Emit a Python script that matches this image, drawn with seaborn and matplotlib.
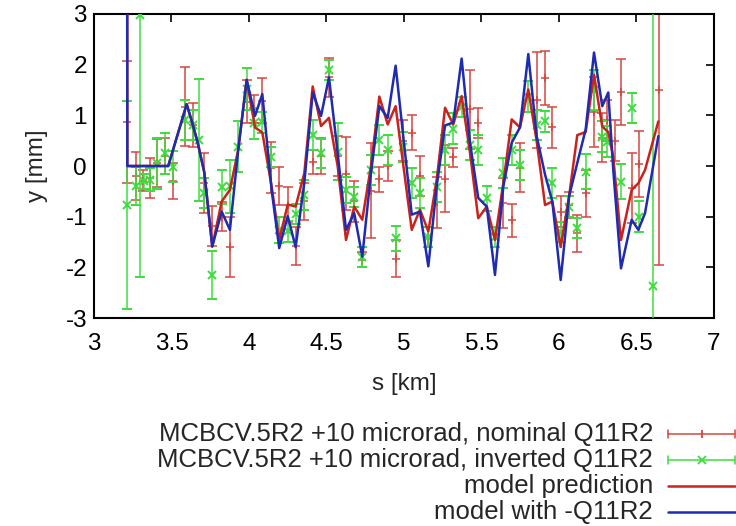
import matplotlib.pyplot as plt
import seaborn as sns
from matplotlib.lines import Line2D

# Model orbit at the BPM positions
s_model = [3.213, 3.215, 3.479, 3.598, 3.637, 3.669, 3.712, 3.763, 3.824, 3.877,
           3.931, 3.985, 4.039, 4.086, 4.146, 4.195, 4.250, 4.301, 4.357, 4.411,
           4.465, 4.516, 4.572, 4.626, 4.679, 4.731, 4.787, 4.841, 4.895, 4.946,
           5.050, 5.103, 5.157, 5.211, 5.265, 5.318, 5.372, 5.426, 5.479, 5.534,
           5.587, 5.641, 5.695, 5.748, 5.802, 5.856, 5.910, 5.957, 6.011, 6.065,
           6.118, 6.172, 6.226, 6.279, 6.318, 6.350, 6.400, 6.469, 6.512, 6.555,
           6.641]
y_model = [10.0, 0.0, 0.0, 1.22, 0.82, 0.46, -0.13, -1.59, -0.70, -0.47,
           0.33, 1.70, 0.76, 0.66, -0.40, -1.46, -0.76, -0.80, -0.14, 1.57,
           0.79, 0.95, 0.00, -1.46, -0.80, -1.06, 0.00, 1.37, 0.82, 1.18,
           -1.26, -0.86, -1.29, -0.27, 1.15, 0.82, 1.38, 0.26, -1.03, -0.80,
           -1.46, -0.33, 0.92, 0.76, 1.51, 0.49, -0.77, -0.70, -1.60, -0.60,
           0.61, 0.67, 1.80, 0.78, 0.67, 0.18, -1.46, -0.47, -0.34, -0.08,
           0.88]
y_model_inv = [10.0, 0.0, 0.0, 1.22, 0.82, 0.46, -0.13, -1.59, -0.90, -1.26,
               0.33, 1.70, 0.99, 1.42, -0.47, -1.62, -0.99, -1.60, -0.33, 1.45,
               0.99, 1.75, 0.26, -1.26, -0.93, -1.79, -0.14, 1.18, 0.95, 1.98,
               -0.96, -0.90, -1.98, -0.40, 0.80, 0.86, 2.12, 0.46, -0.63, -0.80,
               -2.15, -0.40, 0.46, 0.76, 2.21, 0.59, -0.17, -0.70, -2.25, -0.60,
               0.06, 0.72, 2.24, 1.18, 1.45, -0.07, -2.02, -1.06, -1.26, -0.93,
               0.59]

# Measurement, nominal Q11R2
s_nom = [3.215, 3.269, 3.314, 3.361, 3.404, 3.458, 3.512, 3.587, 3.637, 3.712,
         3.763, 3.824, 3.877, 3.985, 4.034, 4.086, 4.142, 4.196, 4.250, 4.301,
         4.357, 4.411, 4.465, 4.516, 4.572, 4.626, 4.679, 4.731, 4.787, 4.841,
         4.895, 4.946, 4.996, 5.050, 5.103, 5.157, 5.211, 5.265, 5.318, 5.426,
         5.479, 5.641, 5.695, 5.748, 5.856, 5.910, 5.957, 6.011, 6.065, 6.118,
         6.172, 6.226, 6.279, 6.308, 6.361, 6.400, 6.469, 6.516, 6.645]
y_nom = [0.87, -0.20, -0.29, -0.24, 0.06, 0.20, -0.30, 1.17, 0.81, -0.34,
         -1.18, -1.00, -1.60, 1.27, 1.12, 1.29, -0.03, -0.39, -0.77, -1.58,
         -0.70, 0.08, 0.20, 1.75, 0.20, -0.15, -0.70, -1.85, -0.49, -0.26,
         0.00, -1.83, 0.50, 0.66, -0.20, -1.40, -0.72, -0.25, 0.17, 1.12,
         0.85, -0.73, -1.07, -0.03, 1.30, 1.73, 0.76, -0.90, -0.77, -1.33,
         -0.54, 1.07, 0.56, 0.90, 0.50, 1.46, -0.44, 0.04, 1.50]
err_nom = [1.20, 0.48, 0.21, 0.40, 0.47, 0.35, 0.35, 0.78, 0.43, 0.59,
           0.39, 0.28, 0.59, 0.43, 0.28, 0.44, 0.51, 0.38, 0.36, 0.38,
           0.36, 0.24, 0.35, 0.38, 0.40, 0.72, 0.40, 0.15, 0.94, 0.25,
           0.30, 0.36, 0.40, 0.34, 0.40, 0.20, 0.51, 0.66, 0.18, 0.78,
           0.30, 0.50, 0.33, 0.48, 0.95, 0.53, 0.41, 0.30, 0.26, 0.36,
           0.46, 0.69, 0.48, 0.40, 0.40, 0.65, 0.69, 0.65, 3.45]

# Measurement, inverted Q11R2
s_inv = [3.215, 3.269, 3.300, 3.320, 3.361, 3.404, 3.458, 3.512, 3.587, 3.637,
         3.677, 3.712, 3.763, 3.824, 3.877, 3.931, 3.985, 4.034, 4.086, 4.142,
         4.196, 4.250, 4.301, 4.357, 4.411, 4.465, 4.516, 4.572, 4.626, 4.679,
         4.731, 4.787, 4.841, 4.895, 4.946, 4.996, 5.050, 5.103, 5.157, 5.211,
         5.265, 5.318, 5.372, 5.426, 5.479, 5.534, 5.587, 5.641, 5.695, 5.748,
         5.802, 5.856, 5.910, 5.957, 6.011, 6.065, 6.118, 6.172, 6.226, 6.279,
         6.308, 6.400, 6.469, 6.516, 6.605]
y_inv = [-0.77, -0.39, 2.98, -0.30, -0.27, 0.05, 0.25, -0.01, 0.91, 0.81,
         0.51, -0.53, -2.15, -0.41, -0.40, 0.38, 1.52, 0.84, 0.86, 0.18,
         -1.26, -1.29, -0.95, -0.57, 0.61, 0.25, 1.90, 0.28, -0.47, -0.61,
         -1.79, -0.08, 0.51, 0.32, -1.43, 0.38, -0.34, -0.53, -1.40, -0.41,
         0.32, 0.74, 1.17, 0.41, 0.32, -0.64, -1.40, -0.14, 0.32, 0.02,
         1.37, 0.81, 0.88, -0.34, -1.30, -0.80, -1.23, -0.11, 1.50, 0.58,
         0.48, -0.31, 1.14, -1.00, -2.37]
err_inv = [2.06, 0.38, 5.17, 0.15, 0.23, 0.50, 0.40, 0.30, 0.40, 0.30,
           1.20, 0.30, 0.48, 0.33, 0.52, 0.50, 0.41, 0.30, 0.20, 0.20,
           0.25, 0.20, 0.20, 0.30, 0.30, 0.28, 0.20, 0.56, 0.26, 0.20,
           0.20, 0.30, 0.30, 0.30, 0.25, 0.30, 0.30, 0.30, 0.20, 0.30,
           0.30, 0.30, 0.20, 0.30, 0.30, 0.25, 0.20, 0.30, 0.30, 0.30,
           0.30, 0.30, 0.20, 0.30, 0.20, 0.20, 0.20, 0.35, 0.40, 0.30,
           0.30, 0.35, 0.30, 0.30, 6.00]

x_ticks = [3, 3.5, 4, 4.5, 5, 5.5, 6, 6.5, 7]
x_ticklabels = ['3', '3.5', '4', '4.5', '5', '5.5', '6', '6.5', '7']
y_ticks = [-3, -2, -1, 0, 1, 2, 3]

labels = ['MCBCV.5R2 +10 microrad, nominal Q11R2',
          'MCBCV.5R2 +10 microrad, inverted Q11R2',
          'model prediction',
          'model with -Q11R2']

c_nom = '#d4473f'
c_inv = '#3fdc3f'
c_model = '#c8231c'
c_inv_model = '#1f2bb0'

sns.set_style('white')
plt.rcParams['font.family'] = ['Liberation Sans', 'DejaVu Sans']
plt.rcParams['axes.unicode_minus'] = False

fig = plt.figure(figsize=(7.36, 5.26), dpi=100)
ax = fig.add_axes([0.1277, 0.3954, 0.8424, 0.578])

ax.errorbar(s_nom, y_nom, yerr=err_nom, fmt='+', color=c_nom, ecolor=c_nom,
            elinewidth=1.1, capsize=3.5, capthick=1.1, markersize=6, mew=1.1, zorder=2)
ax.errorbar(s_inv, y_inv, yerr=err_inv, fmt='x', color=c_inv, ecolor=c_inv,
            elinewidth=1.1, capsize=3.5, capthick=1.1, markersize=6, mew=1.4, zorder=3)
sns.lineplot(x=s_model, y=y_model, color=c_model, lw=1.8, sort=False,
             estimator=None, ax=ax, zorder=4)
sns.lineplot(x=s_model, y=y_model_inv, color=c_inv_model, lw=1.8, sort=False,
             estimator=None, ax=ax, zorder=5)

ax.set_xlim(3, 7)
ax.set_ylim(-3, 3)
ax.set_xticks(x_ticks)
ax.set_xticklabels(x_ticklabels)
ax.set_yticks(y_ticks)
ax.tick_params(direction='in', top=True, right=True, length=6, width=1.2,
               labelsize=17.5, colors='black')
ax.tick_params(axis='x', pad=11)
ax.tick_params(axis='y', pad=5)
for sp in ax.spines.values():
    sp.set_color('black')
    sp.set_linewidth(1.5)

ax.set_xlabel('s [km]', fontsize=17.5)
ax.set_ylabel('y [mm]', fontsize=17.5)
ax.xaxis.set_label_coords(0.5, -0.18)
ax.yaxis.set_label_coords(-0.074, 0.5)

# gnuplot-style key below the plot
row_y = [434, 460, 486, 512]
x0, x1 = 668 / 736, 735 / 736
for i, lab in enumerate(labels):
    yy = 1 - row_y[i] / 526
    fig.text(653 / 736, yy, lab, ha='right', va='center', fontsize=18.5)
    col = [c_nom, c_inv, c_model, c_inv_model][i]
    lw = 1.1 if i < 2 else 1.8
    fig.add_artist(Line2D([x0, x1], [yy, yy], color=col, lw=lw, transform=fig.transFigure))
    if i < 2:
        dy = 4 / 526
        for xx in (x0, x1):
            fig.add_artist(Line2D([xx, xx], [yy - dy, yy + dy], color=col, lw=1.1,
                                  transform=fig.transFigure))
        mk = '|' if i == 0 else 'x'
        fig.add_artist(Line2D([(x0 + x1) / 2], [yy], color=col, marker=mk,
                              markersize=6, mew=1.3, transform=fig.transFigure))

fig.savefig('out.png', dpi=100)
